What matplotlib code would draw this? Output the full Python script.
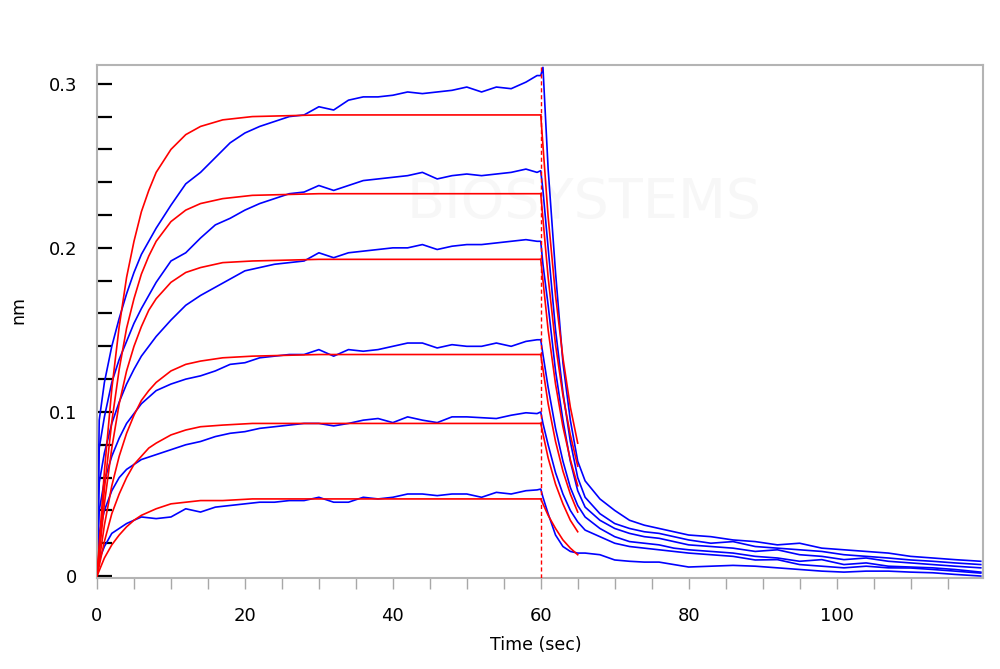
import matplotlib
matplotlib.use("Agg")
import matplotlib.pyplot as plt

# association fit (red), one list per concentration
t_fit_on = [0, 1, 2, 3, 4, 5, 6, 7, 8, 10, 12, 14, 17, 21, 30, 60]
fit_on = [
    [0, 0.064, 0.114, 0.152, 0.182, 0.204, 0.222, 0.235, 0.246, 0.260, 0.269, 0.274, 0.278, 0.280, 0.281, 0.281],
    [0, 0.053, 0.094, 0.126, 0.151, 0.169, 0.184, 0.195, 0.204, 0.216, 0.223, 0.227, 0.230, 0.232, 0.233, 0.233],
    [0, 0.044, 0.078, 0.105, 0.125, 0.140, 0.152, 0.162, 0.169, 0.179, 0.185, 0.188, 0.191, 0.192, 0.193, 0.193],
    [0, 0.031, 0.055, 0.073, 0.087, 0.098, 0.107, 0.113, 0.118, 0.125, 0.129, 0.131, 0.133, 0.134, 0.135, 0.135],
    [0, 0.021, 0.038, 0.050, 0.060, 0.068, 0.073, 0.078, 0.081, 0.086, 0.089, 0.091, 0.092, 0.093, 0.093, 0.093],
    [0, 0.011, 0.019, 0.025, 0.030, 0.034, 0.037, 0.039, 0.041, 0.044, 0.045, 0.046, 0.046, 0.047, 0.047, 0.047],
]

# dissociation fit (red)
t_fit_off = [60, 61, 62, 63, 64, 65]
fit_off = [
    [0.281, 0.219, 0.171, 0.133, 0.103, 0.081],
    [0.233, 0.182, 0.141, 0.110, 0.086, 0.067],
    [0.193, 0.150, 0.117, 0.091, 0.071, 0.055],
    [0.135, 0.105, 0.082, 0.064, 0.050, 0.039],
    [0.093, 0.072, 0.056, 0.044, 0.034, 0.027],
    [0.047, 0.037, 0.029, 0.022, 0.017, 0.013],
]

# measured sensorgrams (blue)
t_on = [0, 0.3, 1, 2, 3, 4, 5, 6, 8, 10, 12, 14, 16, 18, 20, 22, 24, 26, 28, 30,
        32, 34, 36, 38, 40, 42, 44, 46, 48, 50, 52, 54, 56, 58, 59.5]
data_on = [
    [0, 0.095, 0.118, 0.140, 0.157, 0.172, 0.185, 0.196, 0.212, 0.226, 0.239, 0.246, 0.255, 0.264, 0.270,
     0.274, 0.277, 0.280, 0.281, 0.286, 0.284, 0.290, 0.292, 0.292, 0.293, 0.295, 0.294, 0.295, 0.296,
     0.298, 0.295, 0.298, 0.297, 0.301, 0.305],
    [0, 0.078, 0.097, 0.118, 0.132, 0.143, 0.154, 0.163, 0.179, 0.192, 0.197, 0.206, 0.214, 0.218, 0.223,
     0.227, 0.230, 0.233, 0.234, 0.238, 0.235, 0.238, 0.241, 0.242, 0.243, 0.244, 0.246, 0.242, 0.244,
     0.245, 0.244, 0.245, 0.246, 0.248, 0.246],
    [0, 0.057, 0.075, 0.093, 0.106, 0.117, 0.126, 0.134, 0.146, 0.156, 0.165, 0.171, 0.176, 0.181, 0.186,
     0.188, 0.190, 0.191, 0.192, 0.197, 0.194, 0.197, 0.198, 0.199, 0.200, 0.200, 0.202, 0.199, 0.201,
     0.202, 0.202, 0.203, 0.204, 0.205, 0.204],
    [0, 0.040, 0.058, 0.073, 0.084, 0.093, 0.099, 0.105, 0.113, 0.117, 0.120, 0.122, 0.125, 0.129, 0.130,
     0.133, 0.134, 0.135, 0.135, 0.138, 0.134, 0.138, 0.137, 0.138, 0.140, 0.142, 0.142, 0.139, 0.141,
     0.140, 0.140, 0.142, 0.140, 0.143, 0.144],
    [0, 0.026, 0.040, 0.052, 0.060, 0.065, 0.068, 0.071, 0.074, 0.077, 0.080, 0.082, 0.085, 0.087, 0.088,
     0.090, 0.091, 0.092, 0.093, 0.093, 0.0915, 0.093, 0.095, 0.096, 0.0935, 0.097, 0.095, 0.0935, 0.097,
     0.097, 0.0965, 0.096, 0.098, 0.0995, 0.099],
    [0, 0.010, 0.018, 0.026, 0.029, 0.032, 0.034, 0.036, 0.035, 0.036, 0.041, 0.039, 0.042, 0.043, 0.044,
     0.045, 0.045, 0.046, 0.046, 0.048, 0.045, 0.045, 0.048, 0.047, 0.048, 0.050, 0.050, 0.049, 0.050,
     0.050, 0.048, 0.051, 0.050, 0.052, 0.0525],
]

t_off = [60, 60.3, 61, 62, 63, 64, 65, 66, 68, 70, 72, 74, 76, 78, 80, 83, 86, 89,
         92, 95, 98, 101, 104, 107, 110, 113, 116, 119.5]
data_off = [
    [0.305, 0.310, 0.248, 0.185, 0.130, 0.095, 0.070, 0.058, 0.047,
     0.040, 0.034, 0.031, 0.029, 0.027, 0.025, 0.024, 0.022, 0.021, 0.019, 0.020, 0.017, 0.016, 0.015,
     0.014, 0.012, 0.011, 0.010, 0.009],
    [0.247, 0.235, 0.200, 0.150, 0.112, 0.082, 0.060, 0.048, 0.038,
     0.032, 0.029, 0.027, 0.026, 0.024, 0.022, 0.020, 0.021, 0.018, 0.017, 0.016, 0.015, 0.013, 0.012,
     0.011, 0.0098, 0.009, 0.008, 0.007],
    [0.204, 0.190, 0.165, 0.125, 0.095, 0.070, 0.052, 0.042, 0.034,
     0.029, 0.026, 0.024, 0.023, 0.021, 0.019, 0.018, 0.017, 0.015, 0.016, 0.013, 0.012, 0.010, 0.011,
     0.009, 0.008, 0.007, 0.006, 0.005],
    [0.144, 0.135, 0.115, 0.090, 0.070, 0.054, 0.043, 0.036, 0.029,
     0.024, 0.021, 0.020, 0.019, 0.017, 0.016, 0.015, 0.014, 0.012, 0.011, 0.009, 0.010, 0.007, 0.008,
     0.006, 0.0055, 0.005, 0.004, 0.0024],
    [0.100, 0.093, 0.080, 0.063, 0.050, 0.040, 0.033, 0.028, 0.024,
     0.020, 0.018, 0.017, 0.016, 0.015, 0.014, 0.013, 0.012, 0.0098, 0.010, 0.007, 0.006, 0.005, 0.006,
     0.005, 0.0049, 0.004, 0.003, 0.0018],
    [0.053, 0.048, 0.038, 0.025, 0.018, 0.015, 0.014, 0.014, 0.013,
     0.0098, 0.009, 0.0085, 0.0085, 0.007, 0.0055, 0.006, 0.0065, 0.006, 0.005, 0.004, 0.003, 0.0024,
     0.003, 0.003, 0.0024, 0.002, 0.001, 0.0],
]

fig = plt.figure(figsize=(10, 6.69), dpi=100)
ax = fig.add_axes([0.097, 0.136, 0.886, 0.767])

# faint watermark
ax.text(0.55, 0.73, "BIOSYSTEMS", transform=ax.transAxes, fontsize=40,
        color="#f7f7f7", ha="center", va="center", zorder=0)

for on, off in zip(data_on, data_off):
    ax.plot(t_on + t_off, on + off, color="#0000ff", lw=1.2, zorder=2)
for on, off in zip(fit_on, fit_off):
    ax.plot(t_fit_on, on, color="#ff0000", lw=1.2, zorder=3)
    ax.plot(t_fit_off, off, color="#ff0000", lw=1.2, zorder=3)

ax.axvline(60, color="#ff0000", lw=1.0, ls=(0, (3, 2)), zorder=3)

ax.set_xlim(0, 119.8)
ax.set_ylim(-0.0012, 0.3115)

ax.set_xticks([0, 20, 40, 60, 80, 100])
ax.set_xticks(range(0, 120, 5), minor=True)
ax.set_xticklabels(["0", "20", "40", "60", "80", "100"])
ax.set_yticks([0, 0.1, 0.2, 0.3])
ax.set_yticklabels(["0", "0.1", "0.2", "0.3"])
ax.set_yticks([i * 0.02 for i in range(16)], minor=True)

ax.tick_params(axis="x", which="both", direction="out", length=8, width=1,
               color="#a8a8a8", labelsize=13, pad=13)
ax.tick_params(axis="y", which="both", direction="in", length=11, width=1.6,
               color="black", labelsize=13, pad=14)

for s in ax.spines.values():
    s.set_color("#b4b4b4")
    s.set_linewidth(1.5)

ax.set_xlabel("Time (sec)", fontsize=12.5)
ax.xaxis.set_label_coords(0.4955, -0.131)
ax.xaxis.label.set_va("center")
ax.set_ylabel("nm", fontsize=12.5)
ax.yaxis.set_label_coords(-0.089, 0.522)
ax.yaxis.label.set_va("center")

fig.savefig("out.png", dpi=100)
